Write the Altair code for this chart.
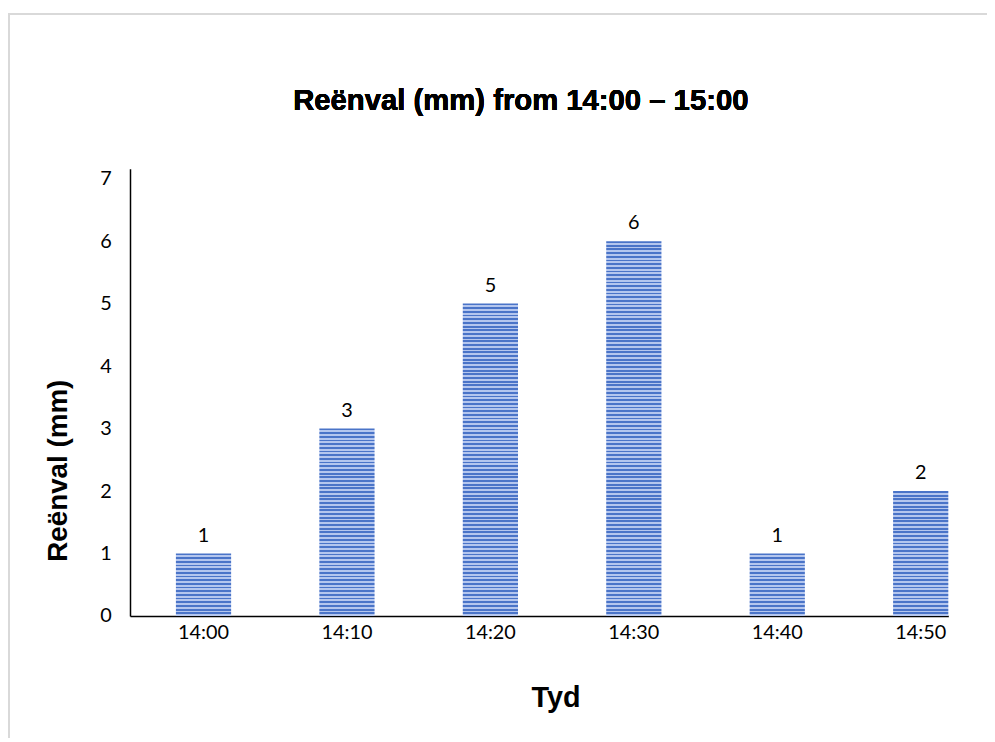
import altair as alt
import pandas as pd

times = ["14:00", "14:10", "14:20", "14:30", "14:40", "14:50"]
rain = [1, 3, 5, 6, 1, 2]
chart_title = "Reënval (mm) from 14:00 – 15:00"

df = pd.DataFrame({"Tyd": times, "Reenval": rain})

DARK = "#4a74c8"
LIGHT = "#b4c6ee"
STRIPES_PER_MM = 17


def striped(value):
    n = STRIPES_PER_MM * value
    stops = []
    for i in range(n):
        a = i / n
        m = (i + 0.5) / n
        b = (i + 1) / n
        stops += [alt.GradientStop(color=DARK, offset=a),
                  alt.GradientStop(color=DARK, offset=m),
                  alt.GradientStop(color=LIGHT, offset=m),
                  alt.GradientStop(color=LIGHT, offset=b)]
    return alt.Gradient(gradient="linear", x1=0, x2=0, y1=0, y2=1, stops=stops)


x_enc = alt.X("Tyd:N", sort=times,
              scale=alt.Scale(paddingInner=0.615, paddingOuter=0.16, align=1, round=False),
              axis=alt.Axis(title="Tyd", labelAngle=0, ticks=False, domainColor="black",
                            domainWidth=1.5, labelFont="Lato", labelFontSize=20, labelColor="#000",
                            labelPadding=7, titleFont="Arial", titleFontSize=29, titleFontWeight="bold",
                            titleX=429, titleY=91, titleBaseline="alphabetic", titleAlign="center"))
y_enc = alt.Y("Reenval:Q", scale=alt.Scale(domain=[0, 7.16], nice=False),
              axis=alt.Axis(title="Reënval (mm)", values=[0, 1, 2, 3, 4, 5, 6, 7], format="d",
                            grid=False, ticks=False, domainColor="black", domainWidth=1.5,
                            labelFont="Lato", labelFontSize=20, labelColor="#000", labelPadding=19,
                            titleFont="Arial", titleFontSize=28, titleFontWeight="bold",
                            titleAngle=270, titleAlign="center", titleBaseline="middle",
                            titleX=-72, titleY=304))

bar_layers = []
for i, v in enumerate(sorted(set(rain))):
    enc_x = x_enc if i == 0 else alt.X("Tyd:N", sort=times)
    enc_y = y_enc if i == 0 else alt.Y("Reenval:Q")
    bar_layers.append(
        alt.Chart(df).transform_filter(alt.datum.Reenval == v)
        .mark_bar(color=striped(v)).encode(x=enc_x, y=enc_y)
    )

labels = alt.Chart(df).mark_text(
    baseline="bottom", dy=-8, font="Lato", fontSize=20, color="#000"
).encode(x=alt.X("Tyd:N", sort=times), y="Reenval:Q", text="Reenval:Q")

border = alt.Chart(df).mark_rect(fill=None, stroke="#d9d9d9", strokeWidth=2).encode(
    x=alt.value(-122), x2=alt.value(900), y=alt.value(-156), y2=alt.value(700))

title = alt.Chart(df).mark_text(
    text=chart_title, font="Arial", fontSize=29.5, fontWeight="bold", color="#000",
    align="center", baseline="alphabetic"
).encode(x=alt.value(394), y=alt.value(-59))

chart = alt.layer(border, *bar_layers, labels, title).properties(
    width=825, height=451,
    autosize=alt.AutoSizeParams(type="none"),
    padding={"left": 123, "top": 159, "right": 39, "bottom": 120},
).configure_view(stroke=None)

chart.save("out.html", embed_options={"renderer": "svg", "actions": False})
